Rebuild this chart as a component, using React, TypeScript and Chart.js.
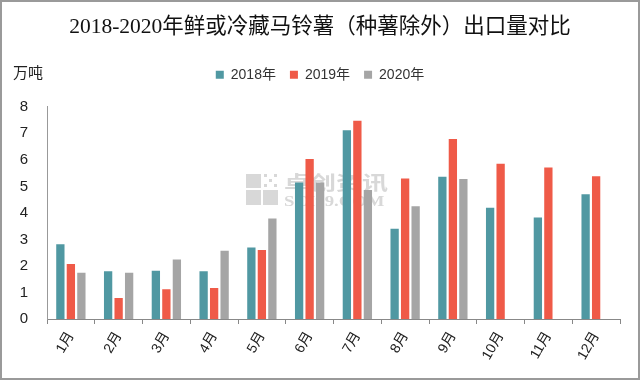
import React, { useEffect, useRef } from "react";
import { Chart, registerables } from "chart.js";

Chart.register(...registerables);

const months = ["1月", "2月", "3月", "4月", "5月", "6月", "7月", "8月", "9月", "10月", "11月", "12月"];
const series2018 = [2.82, 1.8, 1.82, 1.8, 2.7, 5.15, 7.12, 3.4, 5.36, 4.19, 3.83, 4.7];
const series2019 = [2.07, 0.79, 1.12, 1.17, 2.6, 6.03, 7.47, 5.3, 6.79, 5.85, 5.71, 5.38];
const series2020 = [1.74, 1.74, 2.24, 2.57, 3.79, 5.15, 4.86, 4.25, 5.28, null, null, null];
const seriesNames = ["2018年", "2019年", "2020年"];
const colors = ["#5098A2", "#EF5A48", "#A5A5A5"];
const titleText = "2018-2020年鲜或冷藏马铃薯（种薯除外）出口量对比";
const unitText = "万吨";

const SANS = '"Liberation Sans", "Noto Sans CJK SC", sans-serif';

const legendHeightPlugin = {
  id: "legendHeight",
  beforeInit(chart: any) {
    const lg = chart.legend;
    if (!lg) return;
    const orig = lg.fit;
    lg.fit = function () {
      orig.call(this);
      this.height = 53;
    };
  },
};

const extrasPlugin = {
  id: "extras",
  beforeDatasetsDraw(chart: any) {
    const ctx = chart.ctx;
    ctx.save();
    // watermark
    ctx.fillStyle = "rgba(200,200,200,0.7)";
    ctx.fillRect(246, 174, 15, 14);
    ctx.fillRect(246, 190, 15, 15);
    ctx.fillRect(263, 190, 15, 15);
    for (let i = 0; i < 3; i++) {
      for (let j = 0; j < 3; j++) {
        if ((i + j) % 2 === 0) ctx.fillRect(264 + i * 5, 174 + j * 5, 3, 3);
      }
    }
    ctx.font = 'bold 26px "Noto Sans CJK SC", sans-serif';
    ctx.textBaseline = "middle";
    ctx.textAlign = "left";
    ctx.save();
    ctx.translate(284, 183);
    ctx.scale(1, 0.75);
    ctx.fillText("卓创资讯", 0, 0);
    ctx.restore();
    ctx.font = 'bold 15px "Liberation Serif", serif';
    ctx.save();
    ctx.translate(284, 202);
    ctx.scale(1.25, 1);
    ctx.fillText("SCI99.COM", 0, 0);
    ctx.restore();
    ctx.restore();
  },
  afterDraw(chart: any) {
    const ctx = chart.ctx;
    ctx.save();
    ctx.fillStyle = "#222";
    ctx.font = '15px "Noto Sans CJK SC", sans-serif';
    ctx.textBaseline = "middle";
    ctx.textAlign = "left";
    ctx.fillText(unitText, 13, 72);
    ctx.restore();
  },
};

export default function App() {
  const ref = useRef<HTMLCanvasElement>(null);
  useEffect(() => {
    if (!ref.current) return;
    const data = [series2018, series2019, series2020];
    const chart = new Chart(ref.current, {
      type: "bar",
      data: {
        labels: months,
        datasets: seriesNames.map((n, i) => ({
          label: n,
          data: data[i],
          backgroundColor: colors[i],
          borderWidth: 0,
          categoryPercentage: 0.66,
          barPercentage: 0.79,
        })),
      },
      options: {
        animation: false,
        responsive: false,
        maintainAspectRatio: false,
        layout: { padding: { left: 0, right: 0, top: 0, bottom: 0 } },
        plugins: {
          tooltip: { enabled: false },
          title: {
            display: true,
            text: titleText,
            color: "#111",
            font: { family: '"Liberation Serif", "Noto Sans CJK SC", serif', size: 21.5, weight: "normal" },
            padding: { top: 14, bottom: 14 },
          },
          legend: {
            display: true,
            position: "top",
            labels: {
              boxWidth: 8,
              boxHeight: 8,
              padding: 14,
              color: "#333",
              font: { family: SANS, size: 14 },
            },
          },
        },
        scales: {
          x: {
            grid: {
              display: true,
              drawOnChartArea: false,
              drawTicks: true,
              tickLength: 5,
              color: "#888",
              offset: true,
            },
            border: { display: true, color: "#888" },
            ticks: {
              color: "#222",
              font: { family: SANS, size: 14 },
              minRotation: 60,
              maxRotation: 60,
              padding: 5,
            },
            afterFit(axis: any) {
              axis.height = 61;
            },
          },
          y: {
            min: 0,
            max: 8,
            grid: { display: false, drawTicks: false },
            border: { display: true, color: "#999" },
            ticks: {
              stepSize: 1,
              color: "#222",
              font: { family: SANS, size: 15 },
              padding: 19,
            },
            afterFit(axis: any) {
              axis.width = 47;
            },
          },
          yRight: {
            position: "right",
            display: true,
            min: 0,
            max: 8,
            grid: { display: false, drawTicks: false },
            border: { display: false },
            ticks: { display: false },
            afterFit(axis: any) {
              axis.width = 20;
            },
          },
        },
      },
      plugins: [legendHeightPlugin, extrasPlugin],
    } as any);
    return () => chart.destroy();
  }, []);
  return (
    <div style={{ position: "fixed", left: 0, top: 0, width: 640, height: 380, background: "#fff" }}>
      <canvas ref={ref} width={640} height={380} style={{ display: "block" }} />
      <div
        style={{
          position: "absolute",
          left: 0,
          top: 0,
          width: 640,
          height: 380,
          boxSizing: "border-box",
          border: "2px solid #9a9a9a",
          pointerEvents: "none",
        }}
      />
    </div>
  );
}
